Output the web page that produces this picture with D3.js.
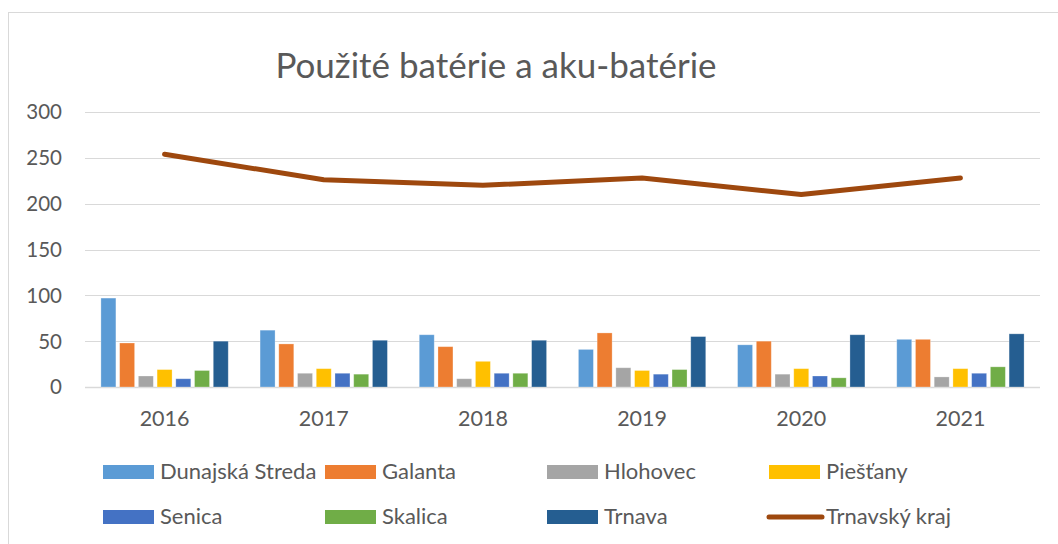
<!DOCTYPE html>
<html>
<head>
<meta charset="utf-8">
<script src="https://cdn.jsdelivr.net/npm/d3@7/dist/d3.min.js"></script>
<style>
    body { margin: 0; background: #fff; }
    svg text { font-family: Lato, "Open Sans", sans-serif; fill: #595959; }
</style>
</head>
<body>
<div id="chart"></div>
<script>
var years = ['2016', '2017', '2018', '2019', '2020', '2021'],
    districts = ['Dunajská Streda', 'Galanta', 'Hlohovec', 'Piešťany', 'Senica', 'Skalica', 'Trnava'],
    dunajskaStreda = [97, 62, 57, 41, 46, 52],
    galanta = [48, 47, 44, 59, 50, 52],
    hlohovec = [12, 15, 9, 21, 14, 11],
    piestany = [19, 20, 28, 18, 20, 20],
    senica = [9, 15, 15, 14, 12, 15],
    skalica = [18, 14, 15, 19, 10, 22],
    trnava = [50, 51, 51, 55, 57, 58],
    trnavskyKraj = [254, 226, 220, 228, 210, 228],
    yTicks = [0, 50, 100, 150, 200, 250, 300]

var colors = ['#5b9bd5', '#ed7d31', '#a5a5a5', '#ffc000', '#4472c4', '#70ad47', '#255e91'],
    lineColor = '#9e480e',
    series = [dunajskaStreda, galanta, hlohovec, piestany, senica, skalica, trnava]

var width = 1058, height = 544,
    margins = { top: 112, right: 18, bottom: 157, left: 85 }

var svg = d3.select('#chart').append('svg')
    .attr('width', width)
    .attr('height', height)

// chart frame
svg.append('rect')
    .attr('x', 8.5).attr('y', 12.5)
    .attr('width', 1070).attr('height', 560)
    .attr('fill', 'none').attr('stroke', '#d9d9d9')

var x0 = d3.scaleBand().domain(years)
        .range([margins.left, width - margins.right])
        .paddingInner(0.2).paddingOuter(0.1),
    x1 = d3.scaleBand().domain(districts)
        .range([0, x0.bandwidth()])
        .paddingInner(0.2),
    y = d3.scaleLinear().domain([0, 300])
        .range([height - margins.bottom, margins.top])

var plotLeft = margins.left, plotRight = width - margins.right

// gridlines
svg.append('g').selectAll('line')
    .data(yTicks)
    .join('line')
    .attr('x1', plotLeft).attr('x2', plotRight)
    .attr('y1', d => Math.round(y(d)) + 0.5).attr('y2', d => Math.round(y(d)) + 0.5)
    .attr('stroke', '#d9d9d9').attr('stroke-width', d => d === 0 ? 1.5 : 1)

// y labels
svg.append('g').selectAll('text')
    .data(yTicks)
    .join('text')
    .attr('x', 62).attr('y', d => y(d))
    .attr('dy', '0.36em')
    .attr('text-anchor', 'end')
    .style('font-size', '20.5px')
    .text(d => d)

// bars
var groups = svg.append('g').selectAll('g')
    .data(years)
    .join('g')
    .attr('transform', d => 'translate(' + x0(d) + ',0)')

groups.selectAll('rect')
    .data((d, i) => districts.map((name, k) => ({ name: name, value: series[k][i], color: colors[k] })))
    .join('rect')
    .attr('x', d => x1(d.name))
    .attr('width', x1.bandwidth())
    .attr('y', d => y(d.value))
    .attr('height', d => y(0) - y(d.value))
    .attr('fill', d => d.color)
    .attr('stroke', '#fff').attr('stroke-opacity', 0.35).attr('stroke-width', 0.8)

// x labels
svg.append('g').selectAll('text')
    .data(years)
    .join('text')
    .attr('x', d => x0(d) + x0.bandwidth() / 2)
    .attr('y', 426)
    .attr('text-anchor', 'middle')
    .style('font-size', '21.5px')
    .text(d => d)

// total line
var line = d3.line()
    .x((d, i) => x0(years[i]) + x0.bandwidth() / 2)
    .y(d => y(d))

svg.append('path')
    .attr('d', line(trnavskyKraj))
    .attr('fill', 'none')
    .attr('stroke', lineColor)
    .attr('stroke-width', 5)
    .attr('stroke-linecap', 'round')
    .attr('stroke-linejoin', 'round')

// title
svg.append('text')
    .attr('x', 496).attr('y', 78)
    .attr('text-anchor', 'middle')
    .style('font-size', '35px')
    .text('Použité batérie a aku-batérie')

// legend
var legendItems = districts.map((name, k) => ({ name: name, color: colors[k], type: 'bar' }))
    .concat([{ name: 'Trnavský kraj', color: lineColor, type: 'line' }])

var legend = svg.append('g').selectAll('g')
    .data(legendItems)
    .join('g')
    .attr('transform', (d, i) => 'translate(' + (103 + (i % 4) * 222) + ',' + (Math.floor(i / 4) ? 524 : 479) + ')')

legend.filter(d => d.type === 'bar').append('rect')
    .attr('x', 0).attr('y', -14)
    .attr('width', 51).attr('height', 14)
    .attr('fill', d => d.color)

legend.filter(d => d.type === 'line').append('line')
    .attr('x1', 0).attr('x2', 53)
    .attr('y1', -7).attr('y2', -7)
    .attr('stroke', d => d.color)
    .attr('stroke-width', 5)
    .attr('stroke-linecap', 'round')

legend.append('text')
    .attr('x', 57)
    .attr('y', 0)
    .style('font-size', '22px')
    .text(d => d.name)
</script>
</body>
</html>
